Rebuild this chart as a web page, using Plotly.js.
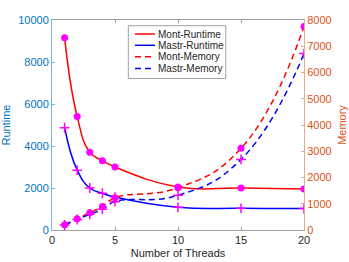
<!DOCTYPE html>
<html><head><meta charset="utf-8">
<script src="https://cdn.plot.ly/plotly-3.0.1.min.js"></script>
<style>html,body{margin:0;padding:0;background:#fff}#c{width:349px;height:262px}</style>
</head><body><div id="c"></div>
<script>
const threads = [1, 2, 3, 4, 5, 10, 15, 20];
const montRuntime = [9150, 5400, 3700, 3300, 3000, 2050, 2000, 1950];
const mastrRuntime = [4870, 2850, 2000, 1750, 1570, 1080, 1030, 1020];
const montMemory = [200, 430, 660, 900, 1230, 1610, 3110, 7750];
const mastrMemory = [190, 400, 600, 790, 1080, 1320, 2690, 6720];
const seriesNames = ['Mont-Runtime', 'Mastr-Runtime', 'Mont-Memory', 'Mastr-Memory'];
const runtimeTicks = [0, 2000, 4000, 6000, 8000, 10000];
const memoryTicks = [0, 1000, 2000, 3000, 4000, 5000, 6000, 7000, 8000];
const xTicks = [0, 5, 10, 15, 20];

const red = '#ff0000', blue = '#0000ff', mag = '#ff00ff';
const font = 'Liberation Sans, Arial, sans-serif';
const seriesColors = [red, blue, red, blue];
const seriesDash = ['solid', 'solid', '6px,4px', '6px,4px'];

function lineTrace(y, i, axis) {
  return {x: threads, y: y, name: seriesNames[i], mode: 'lines', yaxis: axis, showlegend: false,
    line: {color: seriesColors[i], width: 1.5, dash: seriesDash[i], shape: 'spline', smoothing: 1.3}};
}
function markTrace(y, sym, axis) {
  return {x: threads, y: y, mode: 'markers', yaxis: axis, showlegend: false, hoverinfo: 'skip',
    marker: sym === 'circle' ? {symbol: 'circle', size: 7, color: mag} :
      {symbol: 'cross-thin', size: 7, line: {color: mag, width: 1.5}}};
}
const data = [
  lineTrace(montRuntime, 0, 'y'),
  lineTrace(mastrRuntime, 1, 'y'),
  lineTrace(montMemory, 2, 'y2'),
  lineTrace(mastrMemory, 3, 'y2'),
  markTrace(montRuntime, 'circle', 'y'),
  markTrace(mastrRuntime, 'cross', 'y'),
  markTrace(montMemory, 'circle', 'y2'),
  markTrace(mastrMemory, 'cross', 'y2')
];

// custom compact legend (paper coordinates)
const legRows = [0.9333, 0.8795, 0.8248, 0.769];
const shapes = [{type: 'rect', xref: 'paper', yref: 'paper', x0: 0.3028, x1: 0.6893, y0: 0.7214, y1: 0.9729,
  line: {color: '#a0a0a0', width: 1}, fillcolor: '#fff', layer: 'above'}];
const annotations = [];
seriesNames.forEach((n, i) => {
  shapes.push({type: 'line', xref: 'paper', yref: 'paper', x0: 0.3294, x1: 0.4087, y0: legRows[i], y1: legRows[i],
    line: {color: seriesColors[i], width: 1.5, dash: i < 2 ? 'solid' : '6px,4px'}, layer: 'above'});
  annotations.push({xref: 'paper', yref: 'paper', x: 0.4127, y: legRows[i], xanchor: 'left', yanchor: 'middle',
    text: n, showarrow: false, font: {size: 10, color: '#262626', family: font}});
});

const layout = {
  width: 349, height: 262,
  margin: {l: 52, r: 45, t: 20, b: 32},
  paper_bgcolor: '#fff', plot_bgcolor: '#fff',
  font: {family: font, size: 11, color: '#262626'},
  showlegend: false,
  shapes: shapes, annotations: annotations,
  xaxis: {range: [0, 20], tickvals: xTicks, ticktext: xTicks.map(String), ticks: 'inside', ticklen: 3,
    showgrid: false, zeroline: false, showline: true, linecolor: '#a0a0a0', linewidth: 1,
    mirror: 'ticks', tickcolor: '#a0a0a0', tickfont: {size: 11, color: '#262626'},
    title: {text: 'Number of Threads', font: {size: 11, color: '#262626'}, standoff: 4}},
  yaxis: {range: [0, 10000], tickvals: runtimeTicks, ticktext: runtimeTicks.map(String), ticks: 'inside', ticklen: 3,
    showgrid: false, zeroline: false, showline: true, linecolor: '#7fb3dc', tickcolor: '#7fb3dc',
    tickfont: {size: 11, color: '#0072BD'},
    title: {text: 'Runtime', font: {size: 11, color: '#0072BD'}, standoff: 8}},
  yaxis2: {range: [0, 8000], tickvals: memoryTicks, ticktext: memoryTicks.map(String),
    overlaying: 'y', side: 'right', ticks: 'inside', ticklen: 3,
    showgrid: false, zeroline: false, showline: true, linecolor: '#eca98c', tickcolor: '#eca98c',
    tickfont: {size: 11, color: '#D95319'},
    title: {text: 'Memory', font: {size: 11, color: '#D95319'}, standoff: 7}}
};
Plotly.newPlot('c', data, layout, {displayModeBar: false, staticPlot: true});
</script></body></html>
